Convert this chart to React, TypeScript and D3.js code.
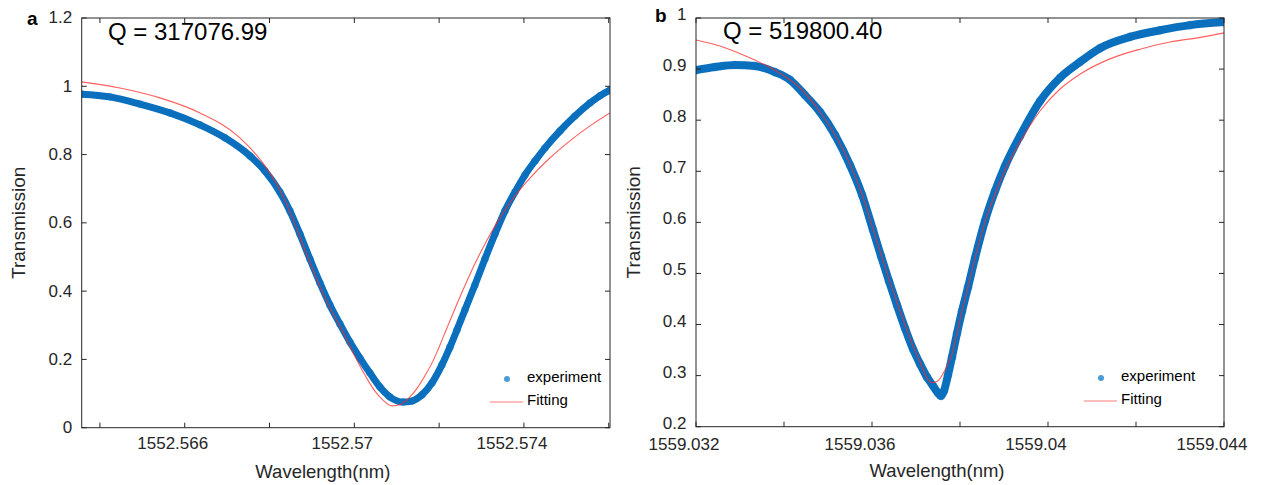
import React from "react";
import * as d3 from "d3";

// ---------- Panel a data ----------
const aExpWl = [1552.563568, 1552.564236, 1552.564943, 1552.565651, 1552.566358, 1552.566948, 1552.567538, 1552.567892, 1552.568245, 1552.568481, 1552.568717, 1552.568953, 1552.569189, 1552.569425, 1552.56966, 1552.569896, 1552.570132, 1552.570368, 1552.570604, 1552.57084, 1552.571146, 1552.571358, 1552.571594, 1552.57183, 1552.572066, 1552.572255, 1552.57242, 1552.572608, 1552.572844, 1552.57308, 1552.573316, 1552.573552, 1552.573788, 1552.574024, 1552.574259, 1552.574495, 1552.574849, 1552.575203, 1552.575557, 1552.575792, 1552.576028];
const aExpT = [0.977, 0.969, 0.948, 0.922, 0.887, 0.849, 0.796, 0.752, 0.69, 0.635, 0.567, 0.494, 0.424, 0.359, 0.304, 0.251, 0.204, 0.16, 0.119, 0.09, 0.075, 0.078, 0.096, 0.131, 0.184, 0.236, 0.286, 0.345, 0.418, 0.494, 0.567, 0.635, 0.69, 0.74, 0.781, 0.819, 0.869, 0.913, 0.951, 0.972, 0.989];
const aFitWl = [1552.563568, 1552.564472, 1552.565415, 1552.566358, 1552.567302, 1552.567892, 1552.568245, 1552.568552, 1552.568835, 1552.569142, 1552.569425, 1552.569708, 1552.569896, 1552.570085, 1552.570274, 1552.570486, 1552.570675, 1552.570887, 1552.571099, 1552.571311, 1552.5715, 1552.571689, 1552.571854, 1552.572019, 1552.572184, 1552.572491, 1552.572774, 1552.57308, 1552.573387, 1552.573717, 1552.574142, 1552.574613, 1552.575085, 1552.575557, 1552.576028];
const aFitT = [1.013, 0.995, 0.966, 0.922, 0.849, 0.767, 0.696, 0.611, 0.521, 0.427, 0.351, 0.286, 0.239, 0.192, 0.149, 0.107, 0.081, 0.064, 0.069, 0.09, 0.119, 0.157, 0.195, 0.242, 0.292, 0.383, 0.462, 0.538, 0.605, 0.667, 0.731, 0.79, 0.84, 0.884, 0.922];
const aXDomain = [1552.56357, 1552.57603];
const aXTicks = [1552.564, 1552.566, 1552.568, 1552.57, 1552.572, 1552.574, 1552.576];
const aXLabels = [1552.566, 1552.57, 1552.574];
const aYDomain = [0, 1.2];
const aYTicks = [0, 0.2, 0.4, 0.6, 0.8, 1, 1.2];
const aQ = "Q = 317076.99";

// ---------- Panel b data ----------
const bExpWl = [1559.032, 1559.032432, 1559.032886, 1559.033341, 1559.033795, 1559.034136, 1559.034477, 1559.034818, 1559.035159, 1559.0355, 1559.035773, 1559.036023, 1559.036205, 1559.036386, 1559.036568, 1559.03675, 1559.036932, 1559.037091, 1559.03725, 1559.037386, 1559.0375, 1559.037568, 1559.037636, 1559.037727, 1559.037818, 1559.037932, 1559.038045, 1559.038182, 1559.038341, 1559.038568, 1559.038795, 1559.039023, 1559.039364, 1559.039818, 1559.040273, 1559.040727, 1559.041182, 1559.041864, 1559.042545, 1559.043227, 1559.044];
const bExpT = [0.898, 0.904, 0.908, 0.906, 0.894, 0.879, 0.849, 0.816, 0.771, 0.712, 0.654, 0.585, 0.534, 0.485, 0.438, 0.393, 0.352, 0.323, 0.297, 0.28, 0.266, 0.26, 0.27, 0.301, 0.336, 0.383, 0.426, 0.473, 0.53, 0.603, 0.661, 0.71, 0.769, 0.837, 0.883, 0.914, 0.941, 0.963, 0.976, 0.986, 0.992];
const bFitWl = [1559.032, 1559.032545, 1559.033114, 1559.033523, 1559.033909, 1559.034364, 1559.034818, 1559.035159, 1559.0355, 1559.035773, 1559.036023, 1559.036205, 1559.036386, 1559.036568, 1559.03675, 1559.036932, 1559.037091, 1559.037227, 1559.037364, 1559.0375, 1559.037636, 1559.037727, 1559.037818, 1559.037932, 1559.038045, 1559.038182, 1559.038341, 1559.038568, 1559.038795, 1559.039023, 1559.039364, 1559.039818, 1559.040273, 1559.040727, 1559.041409, 1559.042091, 1559.042773, 1559.043455, 1559.044];
const bFitT = [0.957, 0.945, 0.926, 0.91, 0.892, 0.863, 0.816, 0.771, 0.714, 0.655, 0.587, 0.538, 0.489, 0.444, 0.399, 0.358, 0.327, 0.299, 0.286, 0.29, 0.307, 0.323, 0.342, 0.383, 0.426, 0.473, 0.53, 0.601, 0.655, 0.702, 0.757, 0.818, 0.861, 0.89, 0.92, 0.939, 0.953, 0.962, 0.971];
const bXDomain = [1559.032, 1559.044];
const bXTicks = [1559.032, 1559.034, 1559.036, 1559.038, 1559.04, 1559.042, 1559.044];
const bXLabels = [1559.032, 1559.036, 1559.04, 1559.044];
const bYDomain = [0.2, 1];
const bYTicks = [0.2, 0.3, 0.4, 0.5, 0.6, 0.7, 0.8, 0.9, 1];
const bQ = "Q = 519800.40";

const legendLabels = ["experiment", "Fitting"];
const xTitle = "Wavelength(nm)";
const yTitle = "Transmission";

const FONT = "'Liberation Sans', Arial, Helvetica, sans-serif";
const AX = "#262626";
const BLUE = "#0a6fbd";
const RED = "#ff2a2a";

type PanelProps = {
  id: string;
  letter: string;
  left: number; right: number; top: number; bottom: number;
  xDomain: number[]; xTicks: number[]; xLabels: number[];
  yDomain: number[]; yTicks: number[];
  expWl: number[]; expT: number[]; fitWl: number[]; fitT: number[];
  q: string; qx: number; qy: number;
  letterX: number; letterY: number;
  legX: number; legY: number;
  band: number;
  yDy: string; xLabelOff: number;
};

function fmt(v: number) {
  return String(+v.toFixed(3));
}

function Panel(p: PanelProps) {
  const x = d3.scaleLinear().domain(p.xDomain).range([p.left, p.right]);
  const y = d3.scaleLinear().domain(p.yDomain).range([p.bottom, p.top]);
  const exp = p.expWl.map((w, i) => [w, p.expT[i]] as [number, number]);
  const fit = p.fitWl.map((w, i) => [w, p.fitT[i]] as [number, number]);
  const line = d3.line<[number, number]>().x(d => x(d[0])).y(d => y(d[1])).curve(d3.curveMonotoneX);
  const tl = 5;
  const cx = (p.left + p.right) / 2;
  const cy = (p.top + p.bottom) / 2;
  return (
    <g>
      <defs>
        <clipPath id={"clip" + p.id}>
          <rect x={p.left} y={p.top} width={p.right - p.left} height={p.bottom - p.top} />
        </clipPath>
      </defs>
      <g clipPath={`url(#clip${p.id})`}>
        <path d={line(exp) || ""} fill="none" stroke={BLUE} strokeWidth={p.band} strokeLinejoin="round" strokeLinecap="round" />
        {exp.map((d, i) => (
          <circle key={i} cx={x(d[0])} cy={y(d[1])} r={p.band / 2 + 0.3} fill={BLUE} opacity={0.6} />
        ))}
        <path d={line(fit) || ""} fill="none" stroke={RED} strokeOpacity={0.75} strokeWidth={1.1} />
      </g>
      <rect x={p.left} y={p.top} width={p.right - p.left} height={p.bottom - p.top} fill="none" stroke={AX} strokeWidth={1} />
      {p.xTicks.map((t, i) => (
        <g key={"xt" + i}>
          <line x1={x(t)} x2={x(t)} y1={p.bottom} y2={p.bottom - tl} stroke={AX} />
          <line x1={x(t)} x2={x(t)} y1={p.top} y2={p.top + tl} stroke={AX} />
        </g>
      ))}
      {p.xLabels.map((t, i) => (
        <text key={"xl" + i} x={x(t) - 12} y={p.bottom + p.xLabelOff} textAnchor="middle" fontSize={17} fill={AX} fontFamily={FONT}>
          {fmt(t)}
        </text>
      ))}
      {p.yTicks.map((t, i) => (
        <g key={"yt" + i}>
          <line x1={p.left} x2={p.left + tl} y1={y(t)} y2={y(t)} stroke={AX} />
          <line x1={p.right} x2={p.right - tl} y1={y(t)} y2={y(t)} stroke={AX} />
          <text x={p.left - 9.5} y={y(t)} dy={p.yDy} textAnchor="end" fontSize={17} fill={AX} fontFamily={FONT}>
            {fmt(t)}
          </text>
        </g>
      ))}
      <text x={cx - 23} y={p.bottom + 50} textAnchor="middle" fontSize={18.5} fill={AX} fontFamily={FONT}>{xTitle}</text>
      <text transform={`translate(${p.left - 63},${cy}) rotate(-90)`} textAnchor="middle" dy="0.35em" fontSize={19} fill={AX} fontFamily={FONT}>{yTitle}</text>
      <text x={p.qx} y={p.qy} fontSize={24} fill="#000" fontFamily={FONT}>{p.q}</text>
      <text x={p.letterX} y={p.letterY} fontSize={19} fontWeight="bold" fill="#000" fontFamily={FONT}>{p.letter}</text>
      <circle cx={p.legX} cy={p.legY} r={3} fill="#4a9bd6" />
      <text x={p.legX + 20} y={p.legY} dy="0.2em" fontSize={15} fill="#000" fontFamily={FONT}>{legendLabels[0]}</text>
      <line x1={p.legX - 17} x2={p.legX + 16} y1={p.legY + 23} y2={p.legY + 23} stroke="#ff7a7a" strokeWidth={1.2} />
      <text x={p.legX + 20} y={p.legY + 21} dy="0.35em" fontSize={15} fill="#000" fontFamily={FONT}>{legendLabels[1]}</text>
    </g>
  );
}

export default function App() {
  return (
    <svg width={1263} height={485} style={{ position: "absolute", left: 0, top: 0, background: "#fff" }}>
      <rect width={1263} height={485} fill="#fff" />
      <Panel id="a" letter="a" left={81.7} right={610} top={18} bottom={427.7}
        xDomain={aXDomain} xTicks={aXTicks} xLabels={aXLabels} yDomain={aYDomain} yTicks={aYTicks}
        expWl={aExpWl} expT={aExpT} fitWl={aFitWl} fitT={aFitT}
        q={aQ} qx={108} qy={40} letterX={27} letterY={25} legX={507} legY={379} band={7}
        yDy="0.32em" xLabelOff={21} />
      <Panel id="b" letter="b" left={696} right={1224} top={18} bottom={426.7}
        xDomain={bXDomain} xTicks={bXTicks} xLabels={bXLabels} yDomain={bYDomain} yTicks={bYTicks}
        expWl={bExpWl} expT={bExpT} fitWl={bFitWl} fitT={bFitT}
        q={bQ} qx={723} qy={38.5} letterX={655} letterY={21.7} legX={1101} legY={378} band={8}
        yDy="0.12em" xLabelOff={23} />
    </svg>
  );
}
